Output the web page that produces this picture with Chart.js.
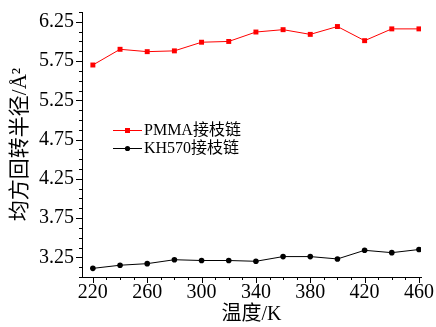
<!DOCTYPE html>
<html>
<head>
<meta charset="utf-8">
<script src="https://cdn.jsdelivr.net/npm/chart.js@4"></script>
<style>
  html, body { margin: 0; padding: 0; background: #fff; }
  canvas { display: block; }
</style>
</head>
<body>
<canvas id="c" width="436" height="327"></canvas>
<script>
// values
var temps = [220, 240, 260, 280, 300, 320, 340, 360, 380, 400, 420, 440, 460];
var pmmaRg = [5.70, 5.90, 5.87, 5.88, 5.99, 6.00, 6.12, 6.15, 6.09, 6.19, 6.01, 6.16, 6.16];
var kh570Rg = [3.11, 3.15, 3.17, 3.22, 3.21, 3.21, 3.20, 3.26, 3.26, 3.23, 3.34, 3.31, 3.35];
var xTicks = [220, 260, 300, 340, 380, 420, 460];
var yTicks = [3.25, 3.75, 4.25, 4.75, 5.25, 5.75, 6.25];

var FONT = "'Liberation Serif', 'DejaVu Serif', 'Noto Sans CJK SC', serif";

// outward tick marks, major + minor
var tickMarks = {
    id: 'tickMarks',
    afterDraw: function (chart) {
        var ctx = chart.ctx;
        var xs = chart.scales.x, ys = chart.scales.y;
        ctx.save();
        ctx.strokeStyle = '#000';
        ctx.lineWidth = 1;
        ctx.beginPath();
        // x: major every 40, minor every 10
        for (var v = xTicks[0]; v <= xTicks[xTicks.length - 1]; v += 10) {
            var px = Math.round(xs.getPixelForValue(v)) + 0.5;
            var len = (xTicks.indexOf(v) >= 0) ? 6 : 3;
            ctx.moveTo(px, xs.top);
            ctx.lineTo(px, xs.top + len);
        }
        // y: major every 0.5, minor every 0.125
        var step = (yTicks[1] - yTicks[0]) / 4;
        for (var i = -2; i <= (yTicks.length - 1) * 4 + 1; i++) {
            var val = yTicks[0] + i * step;
            if (val < ys.min - 1e-9 || val > ys.max + 1e-9) continue;
            var py = Math.round(ys.getPixelForValue(val)) + 0.5;
            var l = (i % 4 === 0) ? 6 : 3;
            ctx.moveTo(ys.right, py);
            ctx.lineTo(ys.right - l, py);
        }
        ctx.stroke();
        ctx.restore();
    }
};

// legend inside the plot
var innerLegend = {
    id: 'innerLegend',
    afterDatasetsDraw: function (chart) {
        var ctx = chart.ctx;
        var x0 = 113, x1 = 142, y0 = 130, dy = 18;
        ctx.save();
        chart.data.datasets.forEach(function (ds, i) {
            var y = y0 + i * dy;
            ctx.strokeStyle = ds.borderColor;
            ctx.lineWidth = 1;
            ctx.beginPath();
            ctx.moveTo(x0, y + 0.5);
            ctx.lineTo(x1, y + 0.5);
            ctx.stroke();
            ctx.fillStyle = ds.borderColor;
            var cx = (x0 + x1) / 2;
            if (ds.pointStyle === 'rect') {
                ctx.fillRect(cx - 2.5, y - 2, 5, 5);
            } else {
                ctx.beginPath();
                ctx.arc(cx, y + 0.5, 2.6, 0, Math.PI * 2);
                ctx.fill();
            }
            ctx.fillStyle = '#000';
            ctx.font = '16px ' + FONT;
            ctx.textBaseline = 'middle';
            ctx.fillText(ds.label, x1 + 2, y + 1);
        });
        ctx.restore();
    }
};

function draw() {
    var ctx = document.getElementById('c').getContext('2d');
    new Chart(ctx, {
        type: 'line',
        data: {
            datasets: [
                {
                    label: 'PMMA接枝链',
                    data: temps.map(function (t, i) { return { x: t, y: pmmaRg[i] }; }),
                    borderColor: '#ff0000',
                    backgroundColor: '#ff0000',
                    borderWidth: 1,
                    pointStyle: 'rect',
                    pointRadius: 3.5,
                    pointBorderWidth: 0,
                    tension: 0
                },
                {
                    label: 'KH570接枝链',
                    data: temps.map(function (t, i) { return { x: t, y: kh570Rg[i] }; }),
                    borderColor: '#000000',
                    backgroundColor: '#000000',
                    borderWidth: 1,
                    pointStyle: 'circle',
                    pointRadius: 2.8,
                    pointBorderWidth: 0,
                    tension: 0
                }
            ]
        },
        options: {
            responsive: false,
            animation: false,
            layout: { padding: { left: 0, top: 12, right: 15, bottom: 0 } },
            plugins: {
                legend: { display: false },
                tooltip: { enabled: false }
            },
            scales: {
                x: {
                    type: 'linear',
                    min: 212,
                    max: 461.5,
                    afterBuildTicks: function (s) { s.ticks = xTicks.map(function (v) { return { value: v }; }); },
                    afterFit: function (s) { s.height = 50; s.paddingLeft = 0; s.paddingRight = 0; },
                    grid: { display: false, drawTicks: false },
                    border: { display: true, color: '#000', width: 1 },
                    ticks: {
                        color: '#000',
                        font: { family: FONT, size: 20 },
                        padding: 4,
                        maxRotation: 0,
                        autoSkip: false
                    },
                    title: {
                        display: true,
                        text: '温度/K',
                        color: '#000',
                        font: { family: FONT, size: 20 },
                        padding: { top: 0, bottom: 0 }
                    }
                },
                y: {
                    min: 3.0,
                    max: 6.375,
                    afterBuildTicks: function (s) { s.ticks = yTicks.map(function (v) { return { value: v }; }); },
                    afterFit: function (s) { s.width = 82; s.paddingTop = 0; s.paddingBottom = 0; },
                    grid: { display: false, drawTicks: false },
                    border: { display: true, color: '#000', width: 1 },
                    ticks: {
                        color: '#000',
                        font: { family: FONT, size: 20 },
                        padding: 8,
                        autoSkip: false,
                        callback: function (v) { return v.toFixed(2); }
                    },
                    title: {
                        display: true,
                        text: '均方回转半径/Å²',
                        color: '#000',
                        font: { family: FONT, size: 21 },
                        padding: { top: 8, bottom: 0 }
                    }
                }
            }
        },
        plugins: [tickMarks, innerLegend]
    });
}

if (document.fonts && document.fonts.load) {
    Promise.all([
        document.fonts.load("20px 'Liberation Serif'"),
        document.fonts.load("20px 'Noto Sans CJK SC'", '温度')
    ]).then(draw, draw);
} else {
    draw();
}
</script>
</body>
</html>
